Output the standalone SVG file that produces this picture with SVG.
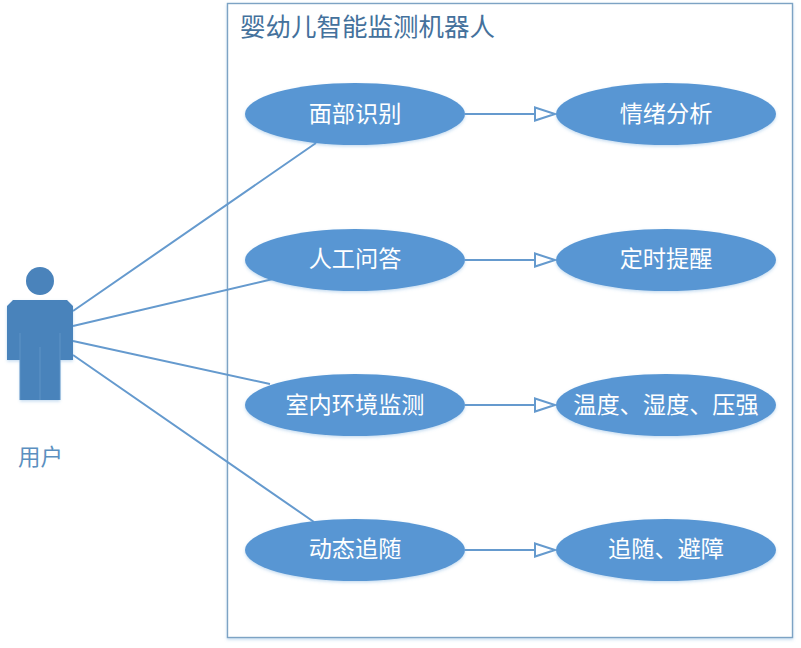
<svg xmlns="http://www.w3.org/2000/svg" width="801" height="648" viewBox="0 0 801 648">
<style>
.f{font-family:"Liberation Sans","Noto Sans CJK SC",sans-serif}
.e{fill:#5896d3;filter:url(#s)}
.t{fill:#fff;font-size:23.200px;text-anchor:middle}
.c{fill:none;stroke:#659ace;stroke-width:2}
.a{fill:#fff;stroke:#659ace;stroke-width:2}
</style>
<defs><filter id="s" x="-10%" y="-15%" width="120%" height="135%"><feDropShadow dx="0" dy="1.5" stdDeviation="1.5" flood-color="#5b9bd5" flood-opacity=".35"/></filter></defs>
<rect width="801" height="648" fill="#fff"/>
<g id="boundary"><rect x="227.500" y="3.500" width="565" height="634" fill="#fff" stroke="#7da3c4" stroke-width="1.400" filter="url(#s)"/>
<text class="f" x="240" y="36" font-size="25.500" fill="#44719c">婴幼儿智能监测机器人</text></g>
<g id="connectors">
<path class="c" d="M73 311L316 143M73 326L273 279M73 341L270 384M73 355L314 522"/>
<path class="c" d="M465 114H535M465 260H535M465 405H535M465 550H535"/>
<path class="a" d="M535 107.500L555 114L535 120.500ZM535 253.500L555 260L535 266.500ZM535 398.500L555 405L535 411.500ZM535 543.500L555 550L535 556.500Z"/>
</g>
<g id="actor">
<circle cx="40" cy="281" r="14" fill="#4a83bb"/>
<path d="M13 300H67L73 306V360H60V400H20V360H7V306Z" fill="#4a83bb" filter="url(#s)"/>
<path d="M20 333V400M40 347V400M60 333V400" stroke="#5f93c6" stroke-width="1" fill="none"/>
<text class="f" x="40.500" y="465" font-size="22.500" fill="#5b8fc0" text-anchor="middle">用户</text>
</g>
<g id="n1"><ellipse class="e" cx="355" cy="114" rx="110" ry="31"/><text class="f t" x="355" y="122">面部识别</text></g>
<g id="n2"><ellipse class="e" cx="355" cy="260" rx="110" ry="31"/><text class="f t" x="355" y="267">人工问答</text></g>
<g id="n3"><ellipse class="e" cx="355" cy="405" rx="110" ry="31"/><text class="f t" x="355" y="413">室内环境监测</text></g>
<g id="n4"><ellipse class="e" cx="355" cy="550" rx="110" ry="31"/><text class="f t" x="355" y="557">动态追随</text></g>
<g id="n5"><ellipse class="e" cx="666" cy="114" rx="110" ry="31"/><text class="f t" x="666" y="122">情绪分析</text></g>
<g id="n6"><ellipse class="e" cx="666" cy="260" rx="110" ry="31"/><text class="f t" x="666" y="267">定时提醒</text></g>
<g id="n7"><ellipse class="e" cx="666" cy="405" rx="110" ry="31"/><text class="f t" x="666" y="413">温度、湿度、压强</text></g>
<g id="n8"><ellipse class="e" cx="666" cy="550" rx="110" ry="31"/><text class="f t" x="666" y="557">追随、避障</text></g>
</svg>
